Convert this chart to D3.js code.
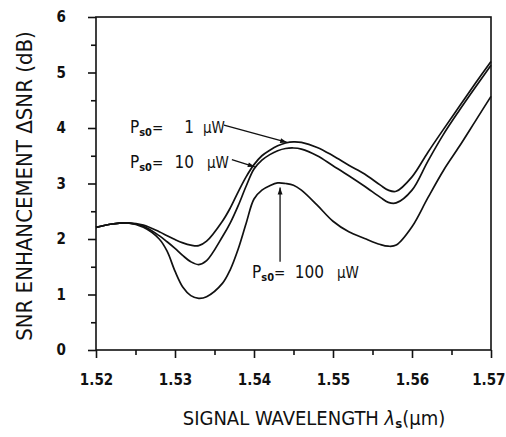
<!DOCTYPE html>
<html><head><meta charset="utf-8">
<script src="https://cdn.jsdelivr.net/npm/d3@7"></script>
<style>
body{margin:0;background:#fff;}
text{font-family:"DejaVu Sans Condensed","DejaVu Sans","Liberation Sans Narrow",sans-serif;font-stretch:condensed;fill:#111;}
</style></head>
<body><svg id="c" width="506" height="437"></svg>
<script>
// ---- data ----
const wavelength = [1.520,1.522,1.524,1.526,1.528,1.529,1.530,1.531,1.532,1.533,1.534,1.536,1.537,1.538,1.539,1.540,1.541,1.542,1.543,1.544,1.545,1.546,1.548,1.550,1.552,1.554,1.556,1.557,1.558,1.560,1.562,1.564,1.566,1.568,1.570];
const snr1uW   = [2.21,2.27,2.29,2.25,2.13,2.06,1.99,1.93,1.89,1.88,1.96,2.32,2.56,2.85,3.12,3.34,3.50,3.60,3.68,3.73,3.75,3.74,3.65,3.50,3.33,3.17,2.97,2.88,2.86,3.12,3.56,3.98,4.39,4.80,5.20];
const snr10uW  = [2.21,2.27,2.29,2.23,2.06,1.95,1.83,1.70,1.59,1.54,1.61,2.04,2.29,2.60,2.95,3.26,3.42,3.52,3.59,3.63,3.64,3.62,3.50,3.32,3.14,2.95,2.75,2.66,2.65,2.88,3.40,3.89,4.32,4.73,5.13];
const snr100uW = [2.21,2.27,2.29,2.21,2.00,1.78,1.42,1.13,0.98,0.93,0.96,1.20,1.45,1.82,2.28,2.72,2.88,2.96,3.01,3.00,2.97,2.88,2.61,2.32,2.13,2.01,1.90,1.87,1.89,2.22,2.74,3.24,3.67,4.12,4.57];
const xTicks = [1.52,1.53,1.54,1.55,1.56,1.57];
const yTicks = [0,1,2,3,4,5,6];
const powerLabels = ["1","10","100"];
const xTitle = "SIGNAL WAVELENGTH ";
const yTitle = "SNR ENHANCEMENT \u0394SNR (dB)";

const svg = d3.select("#c");
const x = d3.scaleLinear().domain([1.52,1.57]).range([96,491]);
const y = d3.scaleLinear().domain([0,6]).range([350,17]);

svg.append("defs").append("marker").attr("id","ah").attr("viewBox","0 0 10 10")
  .attr("refX",10).attr("refY",5).attr("markerWidth",9).attr("markerHeight",7)
  .attr("markerUnits","userSpaceOnUse").attr("orient","auto")
  .append("path").attr("d","M0,1.5L10,5L0,8.5Z").attr("fill","#111");

// frame
svg.append("rect").attr("x",x(1.52)).attr("y",y(6)).attr("width",x(1.57)-x(1.52)).attr("height",y(0)-y(6))
  .attr("fill","none").attr("stroke","#111").attr("stroke-width",1.6);

// axes
const xAxis = svg.append("g").attr("transform",`translate(0,${y(0)})`)
  .call(d3.axisBottom(x).tickValues(xTicks).tickFormat(d3.format(".2f")).tickSize(8).tickPadding(16));
const xMinor = svg.append("g").attr("transform",`translate(0,${y(0)})`)
  .call(d3.axisBottom(x).tickValues(xTicks.slice(0,-1).map(v=>v+0.005)).tickSize(5).tickFormat(""));
const yAxis = svg.append("g").attr("transform",`translate(${x(1.52)},0)`)
  .call(d3.axisLeft(y).tickValues(yTicks).tickFormat(d3.format("d")).tickSize(8).tickPadding(22));
const yMinor = svg.append("g").attr("transform",`translate(${x(1.52)},0)`)
  .call(d3.axisLeft(y).tickValues(yTicks.slice(0,-1).map(v=>v+0.5)).tickSize(5).tickFormat(""));
[xAxis,xMinor,yAxis,yMinor].forEach(g=>{
  g.select(".domain").remove();
  g.selectAll("line").attr("stroke","#111").attr("stroke-width",1.6);
  g.selectAll("text").attr("font-family",null)
   .attr("font-size",15).attr("font-weight","bold").attr("fill","#111");
});
xAxis.selectAll(".tick text").filter(d=>d===1.57).attr("text-anchor","end").attr("dx",14);

// curves
const line = d3.line().x(d=>x(d[0])).y(d=>y(d[1])).curve(d3.curveCatmullRom.alpha(0.5));
[snr1uW,snr10uW,snr100uW].forEach(s=>{
  svg.append("path").datum(wavelength.map((w,i)=>[w,s[i]])).attr("d",line)
    .attr("fill","none").attr("stroke","#111").attr("stroke-width",1.7);
});

// annotations
function label(px, py, num, numEnd, unitX){
  const g = svg.append("g");
  const t = g.append("text").attr("x",px).attr("y",py).attr("font-size",17);
  t.append("tspan").text("P");
  t.append("tspan").attr("font-size",11).attr("font-weight","bold").attr("dy",3).text("s0");
  t.append("tspan").attr("dy",-3).attr("font-size",15).text("=");
  g.append("text").attr("x",numEnd).attr("y",py).attr("font-size",17).attr("text-anchor","end").text(num);
  g.append("text").attr("x",unitX).attr("y",py).attr("font-size",15).text("\u03bcW");
}
label(x(1.5243), y(3.91), powerLabels[0], 194, 203);
label(x(1.5243), y(3.28), powerLabels[1], 194, 207);
label(x(1.53975), y(1.29), powerLabels[2], 324, 337);

function arrow(x1,y1,x2,y2){
  svg.append("line").attr("x1",x(x1)).attr("y1",y(y1)).attr("x2",x(x2)).attr("y2",y(y2))
    .attr("stroke","#111").attr("stroke-width",1.3).attr("marker-end","url(#ah)");
}
arrow(1.5362,4.05,1.5442,3.74);
arrow(1.5372,3.43,1.5401,3.30);
arrow(1.5433,1.59,1.5433,2.93);

// titles
const xt = svg.append("text").attr("x",314).attr("y",425).attr("text-anchor","middle").attr("font-size",20);
xt.append("tspan").text(xTitle);
xt.append("tspan").attr("font-style","italic").text("\u03bb");
xt.append("tspan").attr("font-size",13).attr("font-weight","bold").attr("dy",3).text("s");
xt.append("tspan").attr("dy",-3).text("(\u03bcm)");
svg.append("text").attr("transform","translate(32,186) rotate(-90)").attr("text-anchor","middle")
  .attr("font-size",22).text(yTitle);
</script></body></html>
